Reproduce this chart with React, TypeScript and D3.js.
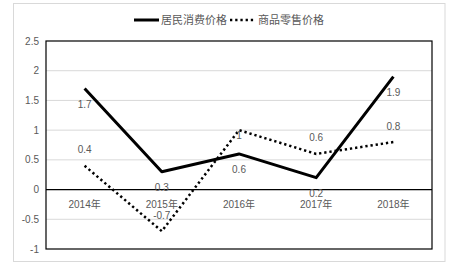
import React from "react";
import * as d3 from "d3";

const categories = ["2014年", "2015年", "2016年", "2017年", "2018年"];
const consumerPrice = [1.7, 0.3, 0.6, 0.2, 1.9];
const retailPrice = [0.4, -0.7, 1, 0.6, 0.8];
const yTicks = [-1, -0.5, 0, 0.5, 1, 1.5, 2, 2.5];
const seriesNames = ["居民消费价格", "商品零售价格"];

const W = 457, H = 266;
const plot = { left: 46, right: 432, top: 41, bottom: 249 };
const font = "'Liberation Sans', Arial, 'Noto Sans CJK SC', sans-serif";
const textColor = "#595959";

export default function App() {
  const x = d3.scaleBand().domain(categories).range([plot.left, plot.right]);
  const cx = (c: string) => (x(c) as number) + x.bandwidth() / 2;
  const y = d3.scaleLinear().domain([-1, 2.5]).range([plot.bottom, plot.top]);
  const line = d3.line<number>().x((_, i) => cx(categories[i])).y((d) => y(d));

  return (
    <svg width={W} height={H} style={{ position: "absolute", left: 0, top: 0 }} fontFamily={font}>
      <rect x={0} y={0} width={W} height={H} fill="#fff" />
      <rect x={13.5} y={3.5} width={431.5} height={258} fill="#fff" stroke="#d9d9d9" />
      {yTicks.filter((t) => t !== 0 && t !== 2.5 && t !== -1).map((t) => (
        <line key={t} x1={plot.left} x2={plot.right} y1={y(t)} y2={y(t)} stroke="#d9d9d9" strokeWidth={1} />
      ))}
      <rect x={plot.left} y={plot.top} width={plot.right - plot.left} height={plot.bottom - plot.top} fill="none" stroke="#000" strokeWidth={1.2} />
      <line x1={plot.left} x2={plot.right} y1={y(0)} y2={y(0)} stroke="#000" strokeWidth={1.2} />
      {yTicks.map((t) => (
        <text key={t} x={39} y={y(t)} dy="0.35em" textAnchor="end" fontSize={10} fill={textColor}>{t}</text>
      ))}
      {categories.map((c) => (
        <text key={c} x={cx(c)} y={204} dy="0.35em" textAnchor="middle" fontSize={10} fill={textColor}>{c}</text>
      ))}
      <path d={line(consumerPrice) as string} fill="none" stroke="#000" strokeWidth={3} strokeLinejoin="round" />
      <path d={line(retailPrice) as string} fill="none" stroke="#000" strokeWidth={2.5} strokeDasharray="2.3,2.9" />
      {consumerPrice.map((v, i) => (
        <text key={"c" + i} x={cx(categories[i])} y={y(v) + 16} dy="0.35em" textAnchor="middle" fontSize={10} fill={textColor}>{v}</text>
      ))}
      {retailPrice.map((v, i) => (
        <text key={"r" + i} x={cx(categories[i])} y={v === 1 ? y(v) + 5 : y(v) - 16} dy="0.35em" textAnchor="middle" fontSize={10} fill={textColor}>{v}</text>
      ))}
      <line x1={134} x2={159} y1={20} y2={20} stroke="#000" strokeWidth={3} />
      <text x={161} y={20} dy="0.35em" fontSize={11} fill={textColor}>{seriesNames[0]}</text>
      <line x1={230} x2={255} y1={20} y2={20} stroke="#000" strokeWidth={2.5} strokeDasharray="2.3,2.9" />
      <text x={258} y={20} dy="0.35em" fontSize={11} fill={textColor}>{seriesNames[1]}</text>
    </svg>
  );
}
